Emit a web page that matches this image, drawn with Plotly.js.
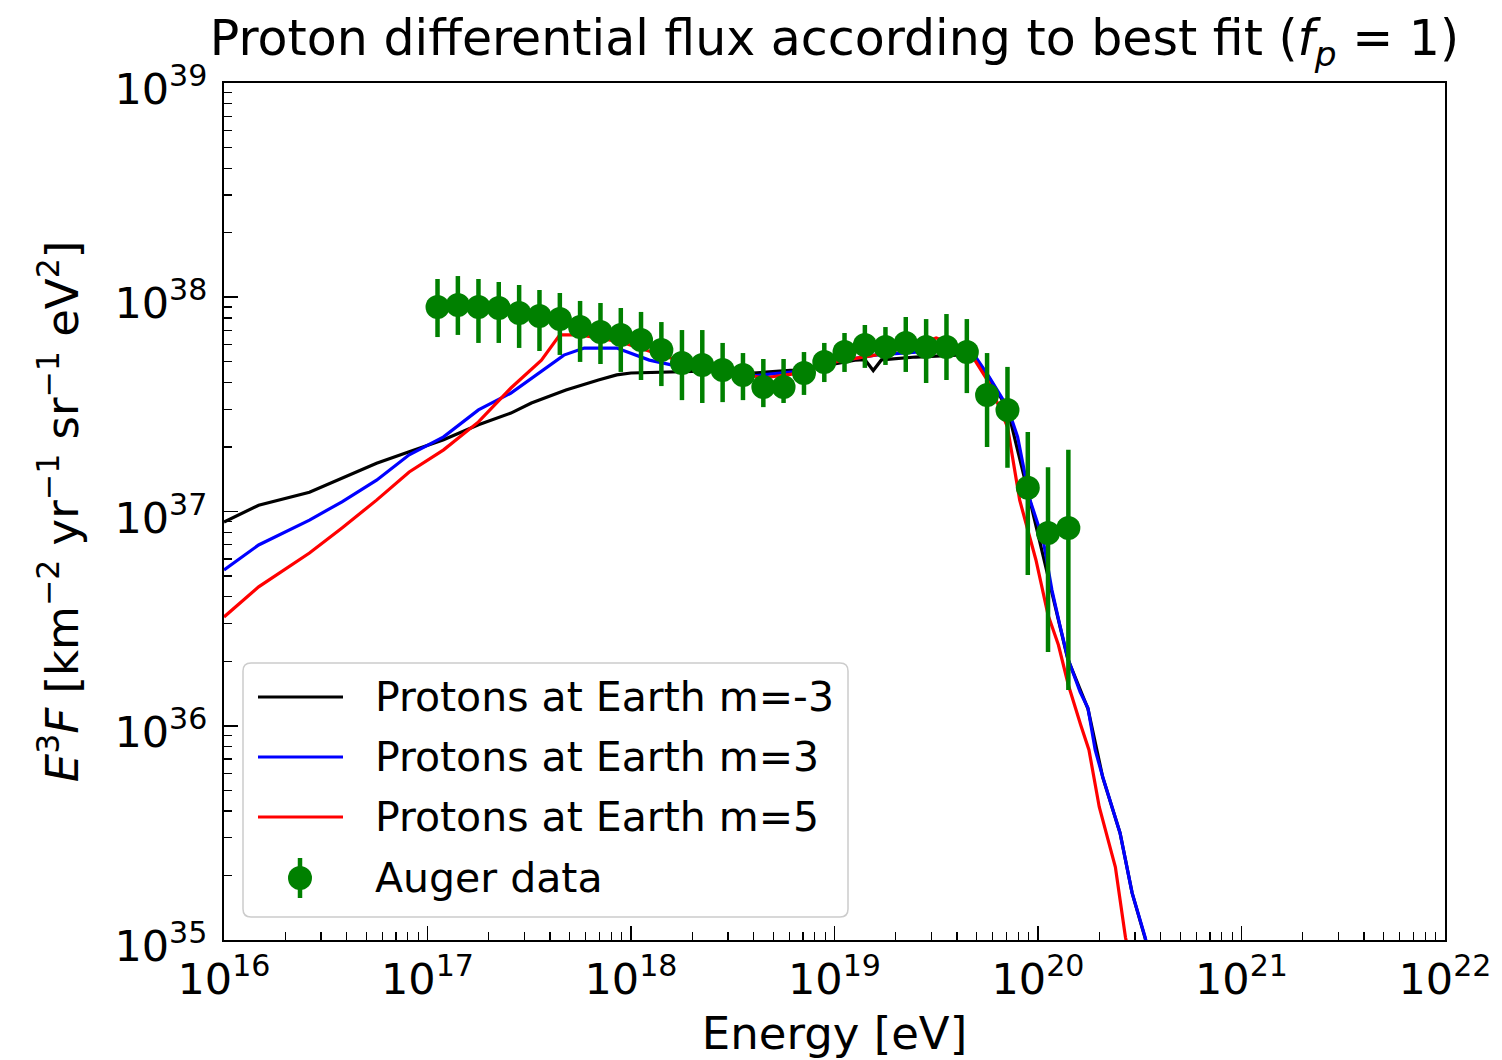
<!DOCTYPE html>
<html>
<head>
<meta charset="utf-8">
<script src="https://cdn.plot.ly/plotly-3.0.1.min.js"></script>
<style>
  html, body { margin: 0; padding: 0; background: #ffffff; }
  #plot { width: 1502px; height: 1060px; }
</style>
</head>
<body>
<div id="plot"></div>
<script>
// ---------------- DATA ----------------
// Auger data points (energy in eV, E^3 F in km^-2 yr^-1 sr^-1 eV^2)
const augerEnergy = [1.12e17, 1.41e17, 1.78e17, 2.24e17, 2.82e17, 3.55e17, 4.47e17, 5.62e17, 7.08e17, 8.91e17,
                     1.12e18, 1.41e18, 1.78e18, 2.24e18, 2.82e18, 3.55e18, 4.47e18, 5.62e18, 7.08e18, 8.91e18,
                     1.12e19, 1.41e19, 1.78e19, 2.24e19, 2.82e19, 3.55e19, 4.47e19, 5.62e19, 7.08e19, 8.91e19,
                     1.12e20, 1.41e20];
const augerFlux = [9.0e37, 9.2e37, 9.0e37, 8.91e37, 8.44e37, 8.18e37, 7.91e37, 7.26e37, 6.88e37, 6.67e37,
                   6.32e37, 5.67e37, 4.93e37, 4.83e37, 4.58e37, 4.34e37, 3.81e37, 3.81e37, 4.43e37, 4.99e37,
                   5.55e37, 5.98e37, 5.86e37, 6.12e37, 5.86e37, 5.86e37, 5.55e37, 3.50e37, 2.98e37, 1.29e37,
                   7.94e36, 8.38e36];
const augerUpper = [1.217e38, 1.256e38, 1.217e38, 1.178e38, 1.141e38, 1.081e38, 1.047e38, 9.61e37, 9.40e37, 8.91e37,
                    8.54e37, 7.66e37, 7.03e37, 7.03e37, 6.12e37, 5.49e37, 5.15e37, 5.15e37, 5.55e37, 6.12e37,
                    6.81e37, 7.42e37, 7.26e37, 8.09e37, 7.91e37, 8.35e37, 7.91e37, 5.49e37, 4.73e37, 2.35e37,
                    1.61e37, 1.94e37];
const augerLower = [6.52e37, 6.67e37, 6.12e37, 6.12e37, 5.80e37, 5.61e37, 5.38e37, 4.99e37, 4.88e37, 4.48e37,
                    4.11e37, 3.85e37, 3.31e37, 3.21e37, 3.24e37, 3.31e37, 3.07e37, 3.21e37, 3.50e37, 4.02e37,
                    4.48e37, 4.68e37, 4.83e37, 4.48e37, 3.98e37, 4.11e37, 3.57e37, 2.00e37, 1.60e37, 5.05e36,
                    2.21e36, 1.47e36];

// Model: protons at Earth, m = -3
const energyM3neg = [1e16, 1.48e16, 2.63e16, 3.80e16, 5.62e16, 8.13e16, 1.20e17, 1.78e17, 2.57e17, 3.24e17,
                     4.79e17, 6.92e17, 8.51e17, 1.0e18, 1.58e18, 2.51e18, 3.98e18, 6.31e18, 1.0e19, 1.26e19,
                     1.41e19, 1.55e19, 1.70e19, 2.51e19, 3.98e19, 4.79e19, 5.75e19, 7.08e19, 9.14e19, 1.17e20,
                     1.40e20, 1.76e20, 2.08e20, 2.53e20, 2.90e20, 3.36e20, 3.63e20];
const fluxM3neg = [8.93e36, 1.07e37, 1.23e37, 1.43e37, 1.68e37, 1.90e37, 2.16e37, 2.54e37, 2.88e37, 3.21e37,
                   3.69e37, 4.11e37, 4.34e37, 4.43e37, 4.48e37, 4.53e37, 4.43e37, 4.57e37, 4.88e37, 5.09e37,
                   5.12e37, 4.55e37, 5.10e37, 5.26e37, 5.37e37, 5.43e37, 4.20e37, 3.02e37, 1.12e37, 4.25e36,
                   2.05e36, 1.20e36, 5.75e35, 3.16e35, 1.66e35, 1.02e35, 7.6e34];

// Model: protons at Earth, m = 3
const energyM3 = [1e16, 1.48e16, 2.63e16, 3.80e16, 5.62e16, 8.13e16, 1.20e17, 1.78e17, 2.57e17, 3.16e17,
                  4.68e17, 5.89e17, 8.51e17, 1.23e18, 1.78e18, 2.51e18, 3.98e18, 6.31e18, 1.0e19, 1.58e19,
                  2.51e19, 3.98e19, 4.79e19, 5.75e19, 7.08e19, 7.94e19, 9.14e19, 1.06e20, 1.17e20, 1.28e20,
                  1.40e20, 1.61e20, 1.76e20, 1.91e20, 2.08e20, 2.53e20, 2.90e20, 3.36e20, 3.63e20];
const fluxM3 = [5.33e36, 6.98e36, 9.12e36, 1.11e37, 1.40e37, 1.84e37, 2.23e37, 2.98e37, 3.57e37, 4.11e37,
                5.37e37, 5.79e37, 5.79e37, 5.09e37, 4.72e37, 4.53e37, 4.30e37, 4.48e37, 4.99e37, 5.37e37,
                5.55e37, 5.68e37, 5.50e37, 4.25e37, 3.08e37, 2.23e37, 1.13e37, 7.36e36, 4.31e36, 2.95e36,
                2.07e36, 1.44e36, 1.21e36, 7.71e35, 5.77e35, 3.16e35, 1.66e35, 1.03e35, 7.64e34];

// Model: protons at Earth, m = 5
const energyM5 = [1e16, 1.48e16, 2.63e16, 3.80e16, 5.62e16, 8.13e16, 1.20e17, 1.78e17, 2.57e17, 3.63e17,
                  4.47e17, 5.62e17, 8.91e17, 1.41e18, 2.00e18, 3.16e18, 4.47e18, 6.31e18, 1.0e19, 1.58e19,
                  2.51e19, 3.16e19, 3.98e19, 4.79e19, 5.75e19, 7.08e19, 8.13e19, 9.77e19, 1.12e20, 1.26e20,
                  1.41e20, 1.62e20, 1.78e20, 2.00e20, 2.40e20, 2.69e20, 2.95e20];
const fluxM5 = [3.22e36, 4.45e36, 6.40e36, 8.38e36, 1.13e37, 1.53e37, 1.94e37, 2.62e37, 3.77e37, 5.09e37,
                6.67e37, 6.67e37, 6.18e37, 5.37e37, 4.83e37, 4.48e37, 4.20e37, 4.39e37, 4.99e37, 5.37e37,
                5.98e37, 6.46e37, 5.98e37, 5.26e37, 3.98e37, 2.48e37, 1.13e37, 5.94e36, 3.29e36, 2.38e36,
                1.55e36, 1.01e36, 7.71e35, 4.18e35, 2.19e35, 1.03e35, 6.9e34];

const seriesNames = ['Protons at Earth m=-3', 'Protons at Earth m=3', 'Protons at Earth m=5', 'Auger data'];
const seriesColors = ['#000000', '#0000ff', '#ff0000', '#008000'];

const xTickVals = [1e16, 1e17, 1e18, 1e19, 1e20, 1e21, 1e22];
const xTickText = ['10<sup>16</sup>', '10<sup>17</sup>', '10<sup>18</sup>', '10<sup>19</sup>', '10<sup>20</sup>', '10<sup>21</sup>', '10<sup>22</sup>'];
const yTickVals = [1e35, 1e36, 1e37, 1e38, 1e39];
const yTickText = ['10<sup>35</sup>', '10<sup>36</sup>', '10<sup>37</sup>', '10<sup>38</sup>', '10<sup>39</sup>'];

// ---------------- PLOT ----------------
const FONT = 'DejaVu Sans, Liberation Sans, sans-serif';

const errPlus = augerFlux.map((v, i) => augerUpper[i] - v);
const errMinus = augerFlux.map((v, i) => v - augerLower[i]);

const traces = [
  { x: energyM3neg, y: fluxM3neg, type: 'scatter', mode: 'lines', name: seriesNames[0],
    line: { color: seriesColors[0], width: 3.2 } },
  { x: energyM3, y: fluxM3, type: 'scatter', mode: 'lines', name: seriesNames[1],
    line: { color: seriesColors[1], width: 3.2 } },
  { x: energyM5, y: fluxM5, type: 'scatter', mode: 'lines', name: seriesNames[2],
    line: { color: seriesColors[2], width: 3.2 } },
  { x: augerEnergy, y: augerFlux, type: 'scatter', mode: 'markers', name: seriesNames[3],
    marker: { color: seriesColors[3], size: 24, line: { width: 0 } },
    error_y: { type: 'data', symmetric: false, array: errPlus, arrayminus: errMinus,
               color: seriesColors[3], thickness: 4.5, width: 0 } }
];

// ---- legend drawn as a framed box (matplotlib style), in plot-area fractions ----
const PW = 1221, PH = 857;             // plot area size in px
const px = v => v / PW, py = v => v / PH;
const box = { x0: px(19), x1: px(624), y0: py(23), y1: py(277) };
const rx = px(8), ry = py(8);
const rowY = [py(243), py(183), py(123), py(62)];
const lineX0 = px(34), lineX1 = px(119), textX = px(149), markX = px(76);

const shapes = [];
shapes.push({
  type: 'path', xref: 'paper', yref: 'paper', layer: 'above',
  path: `M ${box.x0 + rx},${box.y0} L ${box.x1 - rx},${box.y0} Q ${box.x1},${box.y0} ${box.x1},${box.y0 + ry} ` +
        `L ${box.x1},${box.y1 - ry} Q ${box.x1},${box.y1} ${box.x1 - rx},${box.y1} ` +
        `L ${box.x0 + rx},${box.y1} Q ${box.x0},${box.y1} ${box.x0},${box.y1 - ry} ` +
        `L ${box.x0},${box.y0 + ry} Q ${box.x0},${box.y0} ${box.x0 + rx},${box.y0} Z`,
  fillcolor: 'rgba(255,255,255,0.8)', line: { color: '#cccccc', width: 1.5 }
});
for (let i = 0; i < 3; i++) {
  shapes.push({ type: 'line', xref: 'paper', yref: 'paper', layer: 'above',
    x0: lineX0, x1: lineX1, y0: rowY[i], y1: rowY[i],
    line: { color: seriesColors[i], width: 3.2 } });
}
shapes.push({ type: 'line', xref: 'paper', yref: 'paper', layer: 'above',
  x0: markX, x1: markX, y0: rowY[3] - py(20), y1: rowY[3] + py(20),
  line: { color: seriesColors[3], width: 4.5 } });
shapes.push({ type: 'circle', xref: 'paper', yref: 'paper', layer: 'above',
  x0: markX - px(12), x1: markX + px(12), y0: rowY[3] - py(12), y1: rowY[3] + py(12),
  fillcolor: seriesColors[3], line: { width: 0 } });

const annotations = seriesNames.map((name, i) => ({
  xref: 'paper', yref: 'paper', x: textX, y: rowY[i], xanchor: 'left', yanchor: 'middle',
  text: name, showarrow: false,
  font: { family: FONT, size: 41, color: '#000000' }
}));

const axisCommon = {
  type: 'log',
  showgrid: false,
  zeroline: false,
  showline: true,
  linecolor: '#000000',
  linewidth: 2,
  mirror: true,
  ticks: 'inside',
  ticklen: 14,
  tickwidth: 1.8,
  tickcolor: '#000000',
  tickfont: { family: FONT, size: 43, color: '#000000' },
  minor: { ticks: 'inside', ticklen: 8, tickwidth: 1.3, tickcolor: '#000000', dtick: 'D1', showgrid: false }
};

const layout = {
  width: 1502,
  height: 1060,
  paper_bgcolor: '#ffffff',
  plot_bgcolor: '#ffffff',
  margin: { l: 224, r: 57, t: 83, b: 120 },
  font: { family: FONT, color: '#000000' },
  showlegend: false,
  title: {
    text: 'Proton differential flux according to best fit (<i>f</i><sub><i>p</i></sub> = 1)',
    font: { family: FONT, size: 49, color: '#000000' },
    x: 0.5, xref: 'paper', xanchor: 'center',
    y: 0.964, yref: 'container', yanchor: 'middle'
  },
  xaxis: Object.assign({}, axisCommon, {
    range: [16, 22],
    tickmode: 'array', tickvals: xTickVals, ticktext: xTickText,
    ticklabelstandoff: 0,
    title: { text: 'Energy [eV]', font: { family: FONT, size: 45, color: '#000000' }, standoff: 22 }
  }),
  yaxis: Object.assign({}, axisCommon, {
    range: [35, 39],
    tickmode: 'array', tickvals: yTickVals, ticktext: yTickText,
    ticklabelstandoff: 6,
    ticklabelshift: 6,
    title: { text: '<i>E</i><sup>3</sup><i>F</i> [km<sup>\u22122</sup> yr<sup>\u22121</sup> sr<sup>\u22121</sup> eV<sup>2</sup>]',
             font: { family: FONT, size: 45, color: '#000000' }, standoff: 22 }
  }),
  shapes: shapes,
  annotations: annotations
};

Plotly.newPlot('plot', traces, layout, { staticPlot: true, displayModeBar: false });
</script>
</body>
</html>
